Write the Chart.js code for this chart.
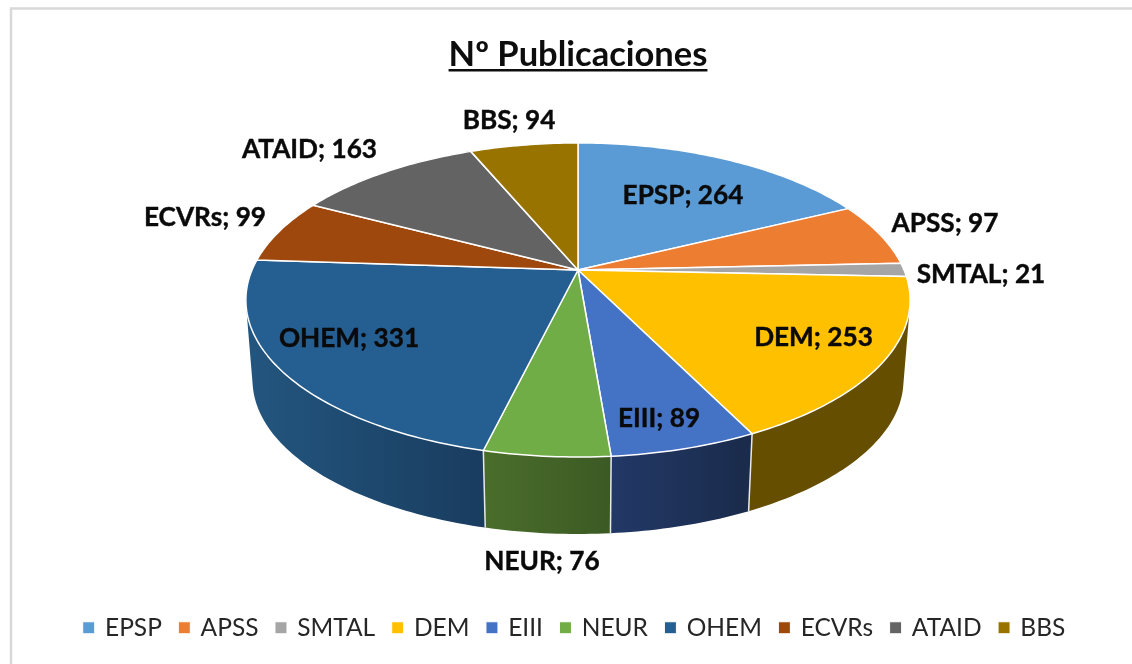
<!DOCTYPE html>
<html>
<head>
<meta charset="utf-8">
<title>Nº Publicaciones</title>
<script src="https://cdn.jsdelivr.net/npm/chart.js@4"></script>
<style>
  body { margin: 0; background: #fff; }
  canvas { display: block; }
</style>
</head>
<body>
<canvas id="my-chart" width="1132" height="664"></canvas>
<script>
'use strict';

// Data
const categories = ['EPSP', 'APSS', 'SMTAL', 'DEM', 'EIII', 'NEUR', 'OHEM', 'ECVRs', 'ATAID', 'BBS'];
const publications = [264, 97, 21, 253, 89, 76, 331, 99, 163, 94];

// Colours
const topColors = ['#5B9BD5', '#ED7D31', '#A5A5A5', '#FFC000', '#4472C4', '#70AD47', '#255E91', '#9E480E', '#636363', '#997300'];
const wallLeft = ['#375D80', '#8E4B1D', '#636363', '#654E00', '#223866', '#4A6D2B', '#23567F', '#5F2B08', '#3B3B3B', '#5C4500'];
const wallRight = ['#375D80', '#8E4B1D', '#636363', '#654E00', '#1A2B4B', '#3C5A24', '#193C5F', '#5F2B08', '#3B3B3B', '#5C4500'];

// Centre of each data label on the page
const labelCenters = [[683, 195.5], [945, 223.5], [981, 274.5], [813.5, 337.5], [659, 418.5], [542, 561.5], [349, 338.5], [205, 217.5], [309.5, 149.5], [509, 120.5]];

// Perspective view of the pie disc, apex at cx, cy
const view = { cx: 578, cy: 270, a: 326, b: 151.3, p: -0.191, lowerScale: 0.98, lowerDrop: 80.7 };

function projectTop(angle) {
  let u = Math.cos(angle);
  let v = Math.sin(angle);
  let d = 1 + view.p * v;
  return [view.cx + view.a * u / d, view.cy + view.b * v / d];
}

function projectBottom(angle) {
  let pt = projectTop(angle);
  return [view.cx + (pt[0] - view.cx) * view.lowerScale, view.cy + (pt[1] - view.cy) * view.lowerScale + view.lowerDrop];
}

function arcPoints(start, end, project) {
  let pts = [];
  let steps = Math.max(2, Math.ceil((end - start) / (Math.PI / 180)));
  for (let i = 0; i <= steps; i++) {
    pts.push(project(start + (end - start) * i / steps));
  }
  return pts;
}

function addPoly(ctx, pts) {
  ctx.moveTo(pts[0][0], pts[0][1]);
  for (let i = 1; i < pts.length; i++) {
    ctx.lineTo(pts[i][0], pts[i][1]);
  }
  ctx.closePath();
}

function signedArea(pts) {
  let sum = 0;
  for (let i = 0; i < pts.length; i++) {
    let next = pts[(i + 1) % pts.length];
    sum += pts[i][0] * next[1] - next[0] * pts[i][1];
  }
  return sum;
}

// Draws the pie arcs in 3D, using the angles worked out by Chart.js
const pie3d = {
  id: 'pie3d',
  afterLayout(chart) {
    // legend sits a little left of the title in the original
    chart.legend.left -= 6;
  },
  beforeDraw(chart) {
    let ctx = chart.ctx;
    ctx.save();
    ctx.fillStyle = '#fff';
    ctx.fillRect(0, 0, chart.width, chart.height);
    ctx.strokeStyle = '#D9D9D9';
    ctx.lineWidth = 2.5;
    ctx.strokeRect(11, 8.5, chart.width, chart.height);
    ctx.restore();
  },
  beforeDatasetsDraw(chart) {
    let ctx = chart.ctx;
    let arcs = chart.getDatasetMeta(0).data;
    let order = arcs.map((arc, i) => i);
    order.sort((i, j) => Math.sin((arcs[i].startAngle + arcs[i].endAngle) / 2) - Math.sin((arcs[j].startAngle + arcs[j].endAngle) / 2));

    ctx.save();
    ctx.lineJoin = 'round';

    // walls: thin strips in one path, all wound the same way so the fold at the sides stays filled
    for (let n = 0; n < order.length; n++) {
      let i = order[n];
      let top = arcPoints(arcs[i].startAngle, arcs[i].endAngle, projectTop);
      let bottom = arcPoints(arcs[i].startAngle, arcs[i].endAngle, projectBottom);
      let xs = top.concat(bottom).map(pt => pt[0]);
      let grad = ctx.createLinearGradient(Math.min(...xs), 0, Math.max(...xs), 0);
      grad.addColorStop(0, wallLeft[i]);
      grad.addColorStop(1, wallRight[i]);
      ctx.beginPath();
      for (let k = 0; k < top.length - 1; k++) {
        let quad = [top[k], top[k + 1], bottom[k + 1], bottom[k]];
        if (signedArea(quad) < 0) {
          quad.reverse();
        }
        addPoly(ctx, quad);
      }
      ctx.fillStyle = grad;
      ctx.fill();
    }

    // white edges between the front walls
    ctx.strokeStyle = '#E8E8E8';
    ctx.lineWidth = 1.5;
    for (let i = 0; i < arcs.length; i++) {
      if (Math.sin(arcs[i].startAngle) > 0.2) {
        let a = projectTop(arcs[i].startAngle);
        let b = projectBottom(arcs[i].startAngle);
        ctx.beginPath();
        ctx.moveTo(a[0], a[1]);
        ctx.lineTo(b[0], b[1]);
        ctx.stroke();
      }
    }

    // top of the pie
    ctx.strokeStyle = '#fff';
    ctx.lineWidth = 1.5;
    for (let i = 0; i < arcs.length; i++) {
      let pts = arcPoints(arcs[i].startAngle, arcs[i].endAngle, projectTop);
      pts.unshift([view.cx, view.cy]);
      ctx.beginPath();
      addPoly(ctx, pts);
      ctx.fillStyle = topColors[i];
      ctx.fill();
      ctx.stroke();
    }
    ctx.restore();
    return false; // skip the flat arcs
  },
  afterDraw(chart) {
    let ctx = chart.ctx;
    ctx.save();

    // data labels
    ctx.font = 'bold 26.2px Lato';
    ctx.fillStyle = '#0A0A0A';
    ctx.strokeStyle = '#0A0A0A';
    ctx.lineWidth = 0.4;
    ctx.textAlign = 'center';
    ctx.textBaseline = 'middle';
    for (let i = 0; i < categories.length; i++) {
      let text = categories[i] + '; ' + publications[i];
      ctx.fillText(text, labelCenters[i][0], labelCenters[i][1]);
      ctx.strokeText(text, labelCenters[i][0], labelCenters[i][1]);
    }

    // underline for the title
    let title = chart.titleBlock;
    ctx.font = 'bold 34.5px Lato';
    let w = ctx.measureText(title.options.text).width;
    let mid = (title.left + title.right) / 2;
    ctx.fillStyle = '#0D0D0D';
    ctx.fillRect(mid - w / 2, 69, w, 2.5);
    ctx.restore();
  }
};

let ctx = document.getElementById('my-chart');

new Chart(ctx, {
  type: 'pie',
  data: {
    labels: categories,
    datasets: [{
      label: 'Nº Publicaciones',
      data: publications,
      backgroundColor: topColors,
      borderColor: '#fff',
      borderWidth: 1
    }]
  },
  options: {
    responsive: false,
    animation: false,
    layout: { padding: { left: 24, top: 34, bottom: 14 } },
    plugins: {
      title: {
        display: true,
        text: 'Nº Publicaciones',
        color: '#0D0D0D',
        font: { family: 'Lato', size: 34.5, weight: 'bold' },
        padding: { top: 0, bottom: 10 }
      },
      legend: {
        position: 'bottom',
        labels: {
          usePointStyle: true,
          pointStyle: 'rect',
          boxWidth: 8,
          boxHeight: 12,
          padding: 18.5,
          color: '#262626',
          font: { family: 'Lato', size: 24.5 }
        }
      },
      tooltip: { enabled: false }
    }
  },
  plugins: [pie3d]
});
</script>
</body>
</html>
